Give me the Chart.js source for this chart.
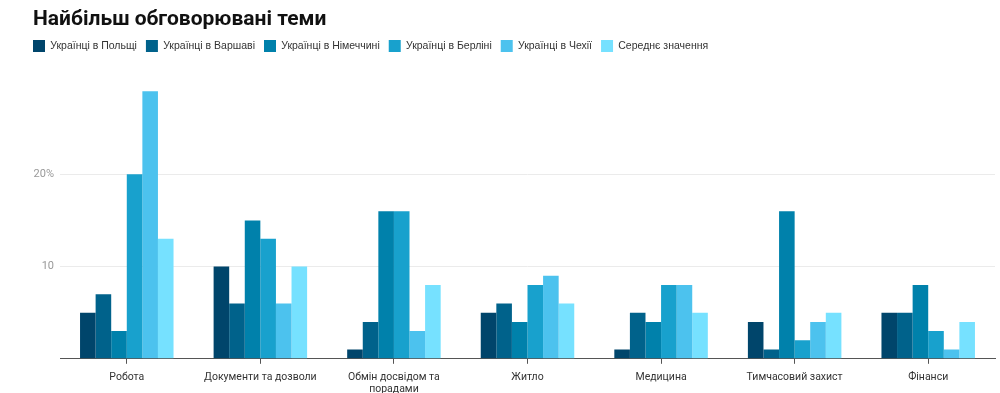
<!DOCTYPE html>
<html><head><meta charset="utf-8">
<script src="https://cdn.jsdelivr.net/npm/chart.js@4"></script>
<style>
html,body{margin:0;padding:0;background:#fff;overflow:hidden;}
#wrap{position:relative;width:1000px;height:403px;}
#title{position:absolute;left:33px;top:6px;font:bold 21px Roboto,"Noto Sans",sans-serif;line-height:24px;color:#111;white-space:nowrap;}
</style></head>
<body><div id="wrap"><div id="title">Найбільш обговорювані теми</div><canvas id="c"></canvas></div>
<script>
const categories = ['Робота','Документи та дозволи',['Обмін досвідом та','порадами'],'Житло','Медицина','Тимчасовий захист','Фінанси'];
const seriesNames = ['Українці в Польщі','Українці в Варшаві','Українці в Німеччині','Українці в Берліні','Українці в Чехії','Середнє значення'];
const poland  = [5,10,1,5,1,4,5];
const warsaw  = [7,6,4,6,5,1,5];
const germany = [3,15,16,4,4,16,8];
const berlin  = [20,13,16,8,8,2,3];
const czechia = [29,6,3,9,8,4,1];
const average = [13,10,8,6,5,5,4];
const colors = ['#00456b','#00628b','#0081ab','#18a1cd','#4cc2ee','#76e1ff'];
const yTicks = {10:'10',20:'20%'};

const seriesValues = [poland,warsaw,germany,berlin,czechia,average];
Chart.defaults.font.family = 'Roboto, "Noto Sans", sans-serif';
const legendSpace = {
  id:'legendSpace',
  beforeInit(chart){
    const orig = chart.legend.fit;
    chart.legend.fit = function(){ orig.bind(chart.legend)(); this.height += 20; };
  }
};
new Chart(document.getElementById('c'), {
  type:'bar',
  data:{
    labels:categories,
    datasets:seriesValues.map((d,i)=>({label:seriesNames[i],data:d,backgroundColor:colors[i],borderWidth:0}))
  },
  options:{
    responsive:true,maintainAspectRatio:false,animation:false,
    categoryPercentage:0.7,barPercentage:1.0,
    layout:{padding:{left:24,right:5,top:31,bottom:0}},
    plugins:{
      title:{display:false},
      legend:{display:true,position:'top',align:'start',
        labels:{boxWidth:12,boxHeight:12,padding:9,color:'#333',font:{size:10.5,family:'"Liberation Sans", Arial, sans-serif'}}},
      tooltip:{enabled:false}
    },
    scales:{
      x:{
        grid:{display:true,drawOnChartArea:false,drawTicks:true,tickLength:5,offset:false,color:'#555'},
        border:{display:true,color:'#555',width:1},
        ticks:{color:'#333',font:{size:10.5},padding:7,maxRotation:0,autoSkip:false}
      },
      y:{
        min:0,max:30,
        afterFit(s){ s.width = 36; },
        ticks:{stepSize:10,color:'#999',font:{size:11},padding:6,callback:v=>yTicks[v]||''},
        grid:{drawTicks:false,color:c=>yTicks[c.tick.value]?'#ebebeb':'rgba(0,0,0,0)'},
        border:{display:false}
      }
    }
  },
  plugins:[legendSpace]
});
</script></body></html>
